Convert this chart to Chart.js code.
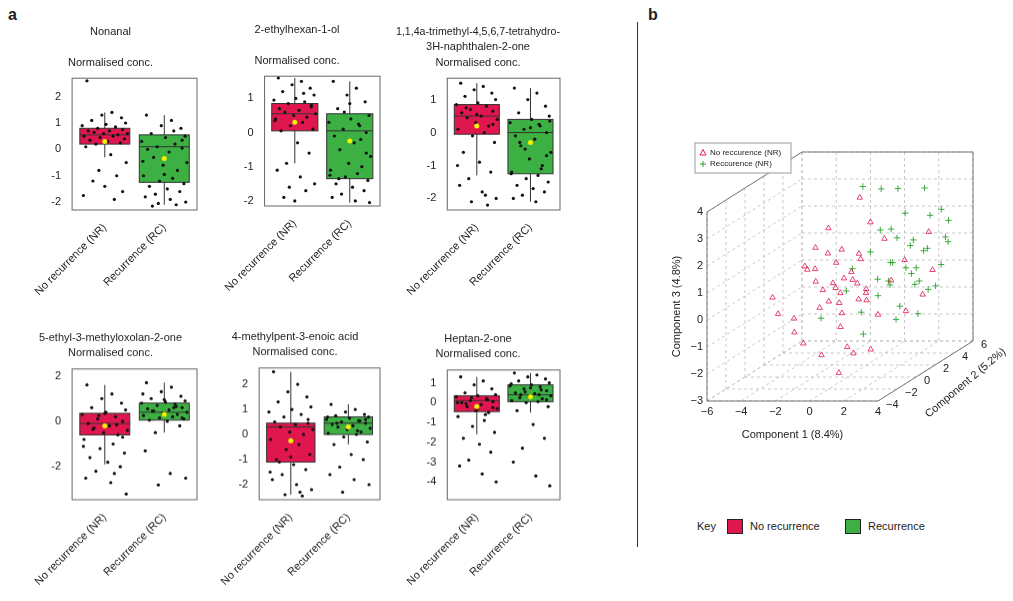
<!DOCTYPE html>
<html><head><meta charset="utf-8">
<script src="https://cdn.jsdelivr.net/npm/chart.js@4"></script>
<style>
body{margin:0;background:#fff;font-family:"Liberation Sans",Arial,sans-serif;}
#wrap{position:relative;width:1013px;height:601px;overflow:hidden;}
canvas{position:absolute;}
.t{position:absolute;font-size:11px;color:#222;}
</style></head><body><div id="wrap">
<div class="t" style="left:8px;top:6px;font-size:16px;font-weight:bold">a</div>
<div class="t" style="left:648px;top:6px;font-size:16px;font-weight:bold">b</div>
<div style="position:absolute;left:637px;top:22px;width:1px;height:525px;background:#333"></div>
<div class="t" style="left:697px;top:520px">Key</div>
<div style="position:absolute;left:727px;top:519px;width:14px;height:13px;background:#e0174f;border:1px solid #222"></div>
<div class="t" style="left:750px;top:520px">No recurrence</div>
<div style="position:absolute;left:845px;top:519px;width:14px;height:13px;background:#3cb043;border:1px solid #222"></div>
<div class="t" style="left:868px;top:520px">Recurrence</div>
</div>
<script>
const groups = ['No recurrence (NR)', 'Recurrence (RC)'];
const titles = [
  ['Nonanal', ' ', 'Normalised conc.'],
  ['2-ethylhexan-1-ol', ' ', 'Normalised conc.'],
  ['1,1,4a-trimethyl-4,5,6,7-tetrahydro-', '3H-naphthalen-2-one', 'Normalised conc.'],
  ['5-ethyl-3-methyloxolan-2-one', 'Normalised conc.'],
  ['4-methylpent-3-enoic acid', 'Normalised conc.'],
  ['Heptan-2-one', 'Normalised conc.']
];
// box stats per panel: [NR, RC] each [whiskerLow, q1, median, q3, whiskerHigh, mean]
const boxNonanal = [[-0.3, 0.2, 0.55, 0.8, 1.4, 0.3], [-2.1, -1.25, 0.1, 0.55, 1.3, -0.35]];
const boxEthylhexanol = [[-0.9, 0.05, 0.55, 0.85, 1.6, 0.3], [-2.05, -1.35, 0.05, 0.55, 1.5, -0.25]];
const boxNaphthalenone = [[-1.3, -0.05, 0.5, 0.85, 1.5, 0.2], [-2.1, -1.25, 0.0, 0.4, 1.35, -0.3]];
const boxOxolanone = [[-1.9, -0.6, -0.1, 0.35, 1.6, -0.2], [-0.5, 0.05, 0.4, 0.8, 1.7, 0.3]];
const boxPentenoic = [[-2.4, -1.1, 0.3, 0.45, 2.5, -0.25], [-0.4, 0.0, 0.45, 0.7, 1.2, 0.3]];
const boxHeptanone = [[-1.6, -0.45, 0.1, 0.35, 1.3, -0.2], [-0.5, 0.05, 0.4, 0.9, 1.5, 0.3]];
// individual samples
const ptsNonanal = [
  [2.6,1.4,1.3,1.2,1.1,1.0,0.95,0.9,0.85,0.8,0.75,0.7,0.7,0.65,0.6,0.6,0.55,0.5,0.5,0.45,0.4,0.35,0.3,0.25,0.2,0.1,-0.2,-0.5,-0.8,-1.0,-1.2,-1.4,-1.6,-1.75,-1.9],
  [1.3,1.1,0.9,0.8,0.6,0.5,0.45,0.3,0.2,0.1,0.05,0.0,-0.1,-0.3,-0.5,-0.6,-0.8,-1.0,-1.1,-1.2,-1.3,-1.4,-1.5,-1.6,-1.7,-1.8,-1.9,-2.0,-2.05,-2.1,-2.15,-0.95,0.35,-0.45,0.7]
];
const ptsEthylhexanol = [
  [1.6,1.5,1.4,1.3,1.2,1.1,1.0,0.95,0.9,0.85,0.8,0.7,0.65,0.6,0.55,0.5,0.45,0.4,0.3,0.2,0.1,0.05,-0.3,-0.6,-0.9,-1.1,-1.3,-1.5,-1.6,-1.7,-1.9,-2.0,0.75,0.35,1.15],
  [1.5,1.3,1.1,0.9,0.7,0.5,0.4,0.3,0.2,0.1,0.0,-0.1,-0.3,-0.5,-0.7,-0.9,-1.0,-1.1,-1.2,-1.3,-1.4,-1.5,-1.6,-1.7,-1.8,-1.9,-2.0,-2.05,0.6,-0.2,-1.35,0.85,-0.6,-1.25,0.25]
];
const ptsNaphthalenone = [
  [1.5,1.4,1.3,1.2,1.1,1.0,0.9,0.85,0.8,0.7,0.65,0.6,0.5,0.45,0.4,0.3,0.2,0.1,0.0,-0.1,-0.3,-0.6,-0.9,-1.2,-1.4,-1.6,-1.8,-2.0,-2.1,-2.2,0.75,0.55,0.25,-1.0,-1.9],
  [1.35,1.2,1.0,0.8,0.6,0.5,0.4,0.3,0.2,0.1,0.0,-0.1,-0.2,-0.4,-0.6,-0.8,-1.0,-1.2,-1.3,-1.4,-1.5,-1.6,-1.7,-1.8,-1.9,-2.0,-2.1,0.35,-0.5,-1.1,-0.3,0.15,-0.7,-1.25,0.25]
];
const ptsOxolanone = [
  [1.6,1.2,1.0,0.8,0.6,0.5,0.4,0.3,0.2,0.1,0.0,-0.1,-0.2,-0.3,-0.4,-0.5,-0.6,-0.8,-1.0,-1.2,-1.4,-1.6,-1.8,-2.0,-2.2,-2.5,-2.7,-3.2,0.25,-0.15,-0.35,0.35,-0.7,-1.1,-2.3],
  [1.7,1.5,1.3,1.1,1.0,0.9,0.85,0.8,0.75,0.7,0.6,0.55,0.5,0.45,0.4,0.35,0.3,0.25,0.2,0.15,0.1,0.05,0.0,-0.2,-0.5,-1.3,-2.3,-2.5,-2.8,0.65,0.45,0.95,0.15,1.2,0.6]
];
const ptsPentenoic = [
  [2.5,2.0,1.7,1.5,1.3,1.1,1.0,0.9,0.8,0.7,0.6,0.5,0.4,0.3,0.2,0.1,0.0,-0.2,-0.4,-0.6,-0.8,-1.0,-1.2,-1.4,-1.6,-1.8,-2.0,-2.2,-2.4,-2.45,-1.1,-0.9,0.45,-1.5,-2.3],
  [1.2,1.0,0.9,0.8,0.75,0.7,0.65,0.6,0.55,0.5,0.45,0.4,0.35,0.3,0.25,0.2,0.1,0.05,0.0,-0.1,-0.3,-0.4,-0.8,-1.0,-1.3,-1.6,-1.8,-2.0,-2.3,0.55,0.45,0.3,0.6,0.7,0.15]
];
const ptsHeptanone = [
  [1.3,1.1,0.9,0.7,0.5,0.4,0.35,0.3,0.2,0.1,0.05,0.0,-0.1,-0.2,-0.3,-0.4,-0.5,-0.7,-0.9,-1.2,-1.5,-1.8,-2.1,-2.5,-2.9,-3.2,-3.6,-4.0,0.25,0.15,-0.05,-0.35,-0.25,0.0,-0.6],
  [1.5,1.4,1.3,1.2,1.1,1.0,0.9,0.85,0.8,0.7,0.6,0.5,0.45,0.4,0.35,0.3,0.2,0.1,0.05,0.0,-0.2,-0.4,-1.1,-1.8,-2.3,-3.0,-3.7,-4.2,0.55,0.65,0.25,0.75,0.15,0.95,0.4]
];
const yRanges = [[-2.3, 2.7], [-2.15, 1.65], [-2.35, 1.65], [-3.45, 2.3], [-2.6, 2.65], [-4.9, 1.65]];
const yTicks = [[-2, -1, 0, 1, 2], [-2, -1, 0, 1], [-2, -1, 0, 1], [-2, 0, 2], [-2, -1, 0, 1, 2], [-4, -3, -2, -1, 0, 1]];
const boxes = [boxNonanal, boxEthylhexanol, boxNaphthalenone, boxOxolanone, boxPentenoic, boxHeptanone];
const points = [ptsNonanal, ptsEthylhexanol, ptsNaphthalenone, ptsOxolanone, ptsPentenoic, ptsHeptanone];
const jitter = [-0.3,0.12,-0.05,0.28,-0.22,0.35,0.02,-0.38,0.18,-0.12,0.3,-0.28,0.08,-0.18,0.38,-0.02,0.22,-0.35,0.14,-0.08,0.33,-0.25,0.05,0.26,-0.15,-0.32,0.1,0.36,-0.1,0.2,-0.2,0.0,0.3,-0.36,0.16];

// 3D PCA scores [component1, component2, component3]
const pcaNR = [
  [-2.3,-1.5,-0.5],[-2.0,-2.0,-0.9],[-1.8,-1.0,1.2],[-1.5,-1.8,1.5],[-1.6,-0.5,1.9],[-1.2,-1.2,0.8],[-1.0,-0.8,0.4],
  [-0.8,-1.5,-0.1],[-0.6,-0.9,0.0],[-0.5,-0.3,1.3],[-0.3,-1.0,0.7],[-0.2,-0.4,0.2],[0.0,-0.6,-0.5],[0.2,-1.1,-0.9],
  [0.3,0.0,0.6],[0.5,-0.5,1.0],[0.7,-1.3,-1.6],[0.9,-1.0,-1.9],[1.0,0.2,-0.2],[1.2,-0.2,0.3],[-1.4,0.5,2.4],
  [-0.9,1.0,1.5],[0.0,1.2,1.3],[0.5,1.5,2.4],[-0.4,2.0,3.2],[1.5,0.5,-0.8],[1.8,-0.8,-1.8],[2.1,0.8,0.4],
  [2.5,1.5,1.0],[3.0,2.5,-0.5],[3.3,3.0,0.3],[2.8,3.5,1.6],[-2.4,-3.0,0.0],[-3.0,-2.5,0.5],[-1.2,-2.5,-1.2],
  [-0.3,-2.2,-1.7],[0.6,-2.0,-2.4],[1.4,-1.5,0.8],[-0.7,0.0,0.3],[0.8,0.5,0.0],[1.6,1.0,1.9],[-1.9,0.0,1.0],
  [-0.1,-0.2,0.7],[0.4,-1.6,0.1],[1.1,-0.6,1.5],[-1.1,-0.1,1.6],[2.3,2.0,-1.0],[0.2,0.8,-0.3]
];
const pcaRC = [
  [-0.5,2.5,3.5],[0.3,3.0,3.3],[1.0,3.5,3.2],[2.0,4.5,3.0],[0.8,2.0,2.0],[1.5,2.5,1.6],[2.0,3.0,1.2],
  [2.5,3.5,0.9],[3.0,3.0,1.1],[2.3,2.0,0.6],[1.8,1.5,0.9],[1.2,1.0,0.4],[2.8,2.5,0.0],[3.2,3.5,-0.4],
  [3.6,2.0,-0.2],[1.5,0.5,-0.1],[2.5,1.0,-0.6],[0.8,0.0,-0.6],[0.2,-0.5,0.3],[1.0,2.5,0.0],[2.0,1.5,-1.2],
  [3.5,4.0,1.3],[3.8,3.0,0.5],[1.7,3.0,2.4],[0.5,1.5,1.3],[2.6,4.0,2.1],[3.0,2.0,-1.1],[1.2,-0.5,-1.3],
  [2.2,0.5,0.3],[3.4,4.5,1.8],[0.0,0.5,0.9],[1.4,2.0,0.8],[2.9,1.5,0.5],[1.9,3.8,0.2],[3.7,3.2,2.5],
  [-1.0,-1.0,-0.6],[0.6,3.5,1.7],[2.4,2.6,1.5],[3.1,5.0,0.9],[1.6,4.2,-0.5]
];
const xTicks3d = [-6, -4, -2, 0, 2, 4];
const yTicks3d = [-4, -2, 0, 2, 4, 6];
const zTicks3d = [-3, -2, -1, 0, 1, 2, 3, 4];

const axisFont = {family: 'Liberation Sans', size: 11};
Chart.defaults.color = '#222';

function frame(ci) {
  return {
    id: 'frame' + ci,
    beforeDatasetsDraw(chart) {
      const {ctx, scales: {x, y}} = chart;
      ctx.save();
      boxes[ci].forEach((b, g) => {
        const xc = x.getPixelForValue(g), hw = x.getPixelForValue(g + 0.42) - xc;
        ctx.strokeStyle = '#333'; ctx.lineWidth = 1;
        ctx.beginPath();
        ctx.moveTo(xc, y.getPixelForValue(b[0])); ctx.lineTo(xc, y.getPixelForValue(b[4]));
        ctx.stroke();
        const top = y.getPixelForValue(b[3]), bot = y.getPixelForValue(b[1]);
        ctx.fillStyle = g === 0 ? '#e0174f' : '#3cb043';
        ctx.fillRect(xc - hw, top, 2 * hw, bot - top);
        ctx.strokeRect(xc - hw, top, 2 * hw, bot - top);
        ctx.beginPath();
        const m = y.getPixelForValue(b[2]);
        ctx.moveTo(xc - hw, m); ctx.lineTo(xc + hw, m); ctx.stroke();
      });
      ctx.restore();
    },
    afterDatasetsDraw(chart) {
      const {ctx, chartArea: a, scales: {x, y}} = chart;
      ctx.save();
      boxes[ci].forEach((b, g) => {
        ctx.fillStyle = '#f4f000';
        ctx.beginPath();
        ctx.arc(x.getPixelForValue(g), y.getPixelForValue(b[5]), 2.5, 0, Math.PI * 2);
        ctx.fill();
      });
      ctx.strokeStyle = '#666'; ctx.lineWidth = 1;
      ctx.strokeRect(a.left, a.top, a.right - a.left, a.bottom - a.top);
      ctx.restore();
    }
  };
}

// frame [left, right, top, bottom] per panel; titles sit above
const frames = [[70, 197, 78, 210], [260, 380, 76, 206], [442, 560, 78, 210], [70, 197, 369, 500], [256, 380, 368, 500], [442, 560, 370, 500]];
const AXW = 38, PADR = 38, XAXH = 92, OFF = 8;
const wrap = document.getElementById('wrap');
for (let i = 0; i < 6; i++) {
  const f = frames[i];
  const nLines = titles[i].length;
  const titleH = nLines * 15.4 + 12;
  const left = f[0] - AXW - OFF, top = f[2] - titleH;
  const w = f[1] - left + PADR, h = f[3] + XAXH - top;
  const cv = document.createElement('canvas');
  cv.style.left = left + 'px'; cv.style.top = top + 'px';
  cv.style.width = w + 'px'; cv.style.height = h + 'px';
  wrap.appendChild(cv);
  const ds = points[i].map((vals, g) => ({
    data: vals.map((v, k) => ({x: g + jitter[k % jitter.length], y: v})),
    pointRadius: 1.6, pointBackgroundColor: '#111', pointBorderWidth: 0
  }));
  new Chart(cv, {
    type: 'scatter',
    data: {datasets: ds},
    options: {
      responsive: false, animation: false, devicePixelRatio: 1,
      layout: {padding: {left: 0, right: PADR, top: 0, bottom: 0}},
      plugins: {
        legend: {display: false}, tooltip: {enabled: false},
        title: {display: true, text: titles[i], font: {family: 'Liberation Sans', size: 11, weight: 'normal', lineHeight: 1.4}, color: '#222', padding: {top: 4, bottom: 8}}
      },
      scales: {
        x: {
          type: 'linear', min: -0.55, max: 1.55,
          grid: {display: false}, border: {display: false},
          afterBuildTicks: s => { s.ticks = [{value: 0}, {value: 1}]; },
          afterFit: s => { s.height = XAXH; },
          ticks: {callback: v => groups[v], minRotation: 45, maxRotation: 45, font: axisFont, color: '#222'}
        },
        y: {
          min: yRanges[i][0], max: yRanges[i][1],
          grid: {display: false}, border: {display: false},
          afterBuildTicks: s => { s.ticks = yTicks[i].map(v => ({value: v})); },
          afterFit: s => { s.width = AXW; },
          ticks: {font: axisFont, color: '#222'}
        }
      }
    },
    plugins: [frame(i)]
  });
}

// 3D panel: oblique projection of scores into flat pixel-like coordinates
const ux = 17.1, dyx = 9.5, dyy = 6, uz = 27;
function proj(p) { return {x: (p[0] + 6) * ux + (p[1] + 4) * dyx, y: (p[2] + 3) * uz + (p[1] + 4) * dyy}; }
const W3 = 266, H3 = 249;
const cv3 = document.createElement('canvas');
cv3.style.left = '660px'; cv3.style.top = '100px';
cv3.style.width = '350px'; cv3.style.height = '400px';
wrap.appendChild(cv3);
const box3d = {
  id: 'box3d',
  beforeDatasetsDraw(chart) {
    const {ctx, scales: {x, y}} = chart;
    const P = (a, b, c) => { const q = proj([a, b, c]); return [x.getPixelForValue(q.x), y.getPixelForValue(q.y)]; };
    const line = (p, q, dash) => { ctx.setLineDash(dash ? [3, 3] : []); ctx.beginPath(); ctx.moveTo(p[0], p[1]); ctx.lineTo(q[0], q[1]); ctx.stroke(); };
    ctx.save();
    ctx.strokeStyle = '#bbb'; ctx.lineWidth = 0.8;
    xTicks3d.forEach(v => { line(P(v, 6, -3), P(v, 6, 4), true); line(P(v, -4, -3), P(v, 6, -3), true); });
    yTicks3d.forEach(v => { line(P(-6, v, -3), P(-6, v, 4), true); line(P(-6, v, -3), P(4, v, -3), true); });
    zTicks3d.forEach(v => { line(P(-6, -4, v), P(-6, 6, v), true); line(P(-6, 6, v), P(4, 6, v), true); });
    ctx.strokeStyle = '#777'; ctx.lineWidth = 1;
    line(P(-6, -4, -3), P(4, -4, -3)); line(P(4, -4, -3), P(4, 6, -3));
    line(P(-6, -4, -3), P(-6, -4, 4)); line(P(-6, -4, 4), P(-6, 6, 4));
    line(P(-6, 6, 4), P(4, 6, 4)); line(P(4, 6, 4), P(4, 6, -3));
    ctx.setLineDash([]);
    ctx.fillStyle = '#222'; ctx.font = '11px Liberation Sans';
    ctx.textAlign = 'center'; ctx.textBaseline = 'top';
    xTicks3d.forEach(v => { const p = P(v, -4, -3); ctx.fillText(String(v).replace('-', '\u2212'), p[0], p[1] + 5); });
    ctx.textAlign = 'left'; ctx.textBaseline = 'middle';
    yTicks3d.forEach(v => { const p = P(4, v, -3); ctx.fillText(String(v).replace('-', '\u2212'), p[0] + 8, p[1] + 4); });
    ctx.textAlign = 'right';
    zTicks3d.forEach(v => { const p = P(-6, -4, v); ctx.fillText(String(v).replace('-', '\u2212'), p[0] - 4, p[1]); });
    let p = P(-1, -4, -3); ctx.textAlign = 'center'; ctx.textBaseline = 'top';
    ctx.fillText('Component 1 (8.4%)', p[0], p[1] + 28);
    p = P(-6, -4, 0.5); ctx.save(); ctx.translate(p[0] - 30, p[1]); ctx.rotate(-Math.PI / 2);
    ctx.textBaseline = 'middle'; ctx.fillText('Component 3 (4.8%)', 0, 0); ctx.restore();
    p = P(4, 1, -3); ctx.save(); ctx.translate(p[0] + 40, p[1] + 12); ctx.rotate(-0.7);
    ctx.textBaseline = 'middle'; ctx.fillText('Component 2 (5.2%)', 0, 0); ctx.restore();
    ctx.restore();
  },
  afterDatasetsDraw(chart) {
    const {ctx} = chart;
    ctx.save();
    ctx.fillStyle = '#fff'; ctx.strokeStyle = '#999';
    ctx.fillRect(35, 43, 96, 30); ctx.strokeRect(35, 43, 96, 30);
    ctx.font = '8px Liberation Sans'; ctx.fillStyle = '#222'; ctx.textBaseline = 'middle';
    ctx.strokeStyle = '#e0174f'; ctx.beginPath(); ctx.moveTo(40, 55); ctx.lineTo(43, 49.5); ctx.lineTo(46, 55); ctx.closePath(); ctx.stroke();
    ctx.fillText('No reccurence (NR)', 50, 53);
    ctx.strokeStyle = '#2ca02c'; ctx.beginPath(); ctx.moveTo(40, 64); ctx.lineTo(46, 64); ctx.moveTo(43, 61); ctx.lineTo(43, 67); ctx.stroke();
    ctx.fillText('Reccurence (NR)', 50, 64);
    ctx.restore();
  }
};
new Chart(cv3, {
  type: 'scatter',
  data: {datasets: [
    {data: pcaNR.map(proj), pointStyle: 'triangle', pointRadius: 3.2, borderColor: '#e0174f', backgroundColor: 'rgba(0,0,0,0)', borderWidth: 0.8},
    {data: pcaRC.map(proj), pointStyle: 'cross', pointRadius: 3.2, borderColor: '#2ca02c', borderWidth: 0.9}
  ]},
  options: {
    responsive: false, animation: false, devicePixelRatio: 1,
    layout: {padding: {left: 47, top: 52, right: 350 - 47 - W3, bottom: 400 - 52 - H3}},
    plugins: {legend: {display: false}, tooltip: {enabled: false}},
    scales: {
      x: {type: 'linear', min: 0, max: W3, display: false},
      y: {type: 'linear', min: 0, max: H3, display: false}
    }
  },
  plugins: [box3d]
});
</script></body></html>
